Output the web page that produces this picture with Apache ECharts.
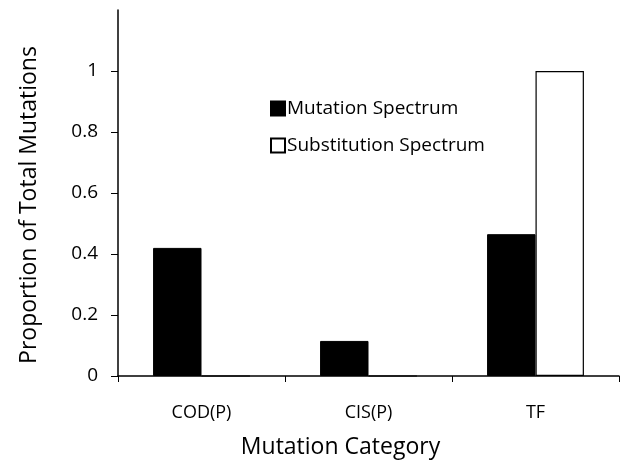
<!DOCTYPE html>
<html><head><meta charset="utf-8">
<script src="https://cdn.jsdelivr.net/npm/echarts@6/dist/echarts.min.js"></script>
<style>html,body{margin:0;padding:0;background:#fff}#c{width:628px;height:465px}</style>
</head><body><div id="c"></div>
<script>
const categories = ['COD(P)', 'CIS(P)', 'TF'];
const mutationSpectrum = [0.42, 0.115, 0.465];
const substitutionSpectrum = [0, 0, 1.0];
const yTicks = [0, 0.2, 0.4, 0.6, 0.8, 1];

const FONT = '"Open Sans", "Noto Sans", sans-serif';
const chart = echarts.init(document.getElementById('c'));
chart.setOption({
  animation: false,
  backgroundColor: '#fff',
  grid: { left: 118, right: 9, top: 10, bottom: 89, containLabel: false },
  legend: {
    orient: 'vertical', left: 265, top: 94, itemGap: 18,
    itemWidth: 14, itemHeight: 14, icon: 'rect',
    textStyle: { fontFamily: FONT, fontSize: 19, color: '#000', padding: [0, 0, 0, -3] },
    data: ['Mutation Spectrum', 'Substitution Spectrum']
  },
  xAxis: {
    type: 'category', data: categories,
    name: 'Mutation Category', nameLocation: 'middle', nameGap: 60,
    nameTextStyle: { fontFamily: FONT, fontSize: 23, color: '#000', padding: [0, 56, 0, 0] },
    axisLine: { lineStyle: { color: '#000', width: 1.5 } },
    axisTick: { show: true, length: 6, lineStyle: { color: '#000', width: 1 } },
    axisLabel: { fontFamily: FONT, fontSize: 18, color: '#000', margin: 28 }
  },
  yAxis: {
    type: 'value', min: 0, max: 1.2, interval: 0.2,
    name: 'Proportion of Total Mutations', nameLocation: 'middle', nameGap: 77,
    nameTextStyle: { fontFamily: FONT, fontSize: 23, color: '#000', padding: [0, 24, 0, 0] },
    axisLine: { show: true, lineStyle: { color: '#000', width: 1.5 } },
    axisTick: { show: true, length: 7, customValues: yTicks, lineStyle: { color: '#000' } },
    axisLabel: { fontFamily: FONT, fontSize: 19, color: '#000', margin: 20, customValues: yTicks,
      formatter: v => String(Math.round(v * 10) / 10) },
    splitLine: { show: false }
  },
  series: [
    { name: 'Mutation Spectrum', type: 'bar', data: mutationSpectrum,
      barGap: '0%', barCategoryGap: '42%',
      itemStyle: { color: '#000', borderColor: '#000', borderWidth: 1 } },
    { name: 'Substitution Spectrum', type: 'bar', data: substitutionSpectrum,
      itemStyle: { color: '#fff', borderColor: '#000', borderWidth: 1.2 } }
  ]
});
</script></body></html>
